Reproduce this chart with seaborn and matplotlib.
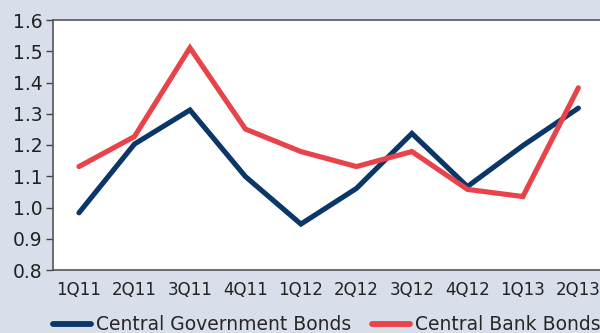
import matplotlib
matplotlib.use('Agg')
import matplotlib.pyplot as plt
import numpy as np
import pandas as pd
import seaborn as sns

quarters = ['1Q11', '2Q11', '3Q11', '4Q11', '1Q12', '2Q12', '3Q12', '4Q12', '1Q13', '2Q13']
gov_bonds = [0.983, 1.203, 1.312, 1.099, 0.947, 1.061, 1.237, 1.067, 1.198, 1.318]
cb_bonds = [1.131, 1.227, 1.511, 1.251, 1.179, 1.131, 1.179, 1.058, 1.035, 1.383]
series = ['Central Government Bonds', 'Central Bank Bonds']
colors = ['#0b3768', '#e8424a']
bg = '#d8deea'

df = pd.DataFrame({
    'pos': list(range(len(quarters))) * 2,
    'value': gov_bonds + cb_bonds,
    'series': [series[0]] * len(quarters) + [series[1]] * len(quarters),
})

sns.set_style('white')
plt.rcParams['font.family'] = ['DejaVu Sans']

fig = plt.figure(figsize=(6, 3.33), dpi=100, facecolor=bg)
ax = fig.add_axes([53 / 600, 63 / 333, 547 / 600, 250 / 333])
sns.lineplot(data=df, x='pos', y='value', hue='series', palette=colors,
             linewidth=3.7, ax=ax, legend=False)
for ln in ax.lines:
    ln.set_solid_capstyle('round')
    ln.set_solid_joinstyle('miter')

ax.set_facecolor('white')
ax.set_xlim(-0.468, 9.39)
ax.set_ylim(0.8, 1.6)
ax.set_yticks(np.arange(0.8, 1.61, 0.1))
ax.set_yticklabels([f'{v:.1f}' for v in np.arange(0.8, 1.61, 0.1)])
ax.set_xticks(range(len(quarters)))
ax.set_xticklabels(quarters)
ax.set_xticks(np.arange(0.5, len(quarters) - 0.5, 1), minor=True)
ax.tick_params(axis='x', which='major', length=0, pad=8, labelsize=12, colors='#222222')
ax.tick_params(axis='x', which='minor', direction='in', length=5, width=1, color='#444444')
ax.tick_params(axis='y', direction='out', length=5, width=1, color='#444444',
               labelsize=13.5, labelcolor='#222222', pad=2.5, left=True)
ax.set_xlabel('')
ax.set_ylabel('')
for side in ['left', 'top', 'bottom']:
    ax.spines[side].set_visible(True)
    ax.spines[side].set_color('#555555')
    ax.spines[side].set_linewidth(1.2)
ax.spines['right'].set_visible(False)

handles = [plt.Line2D([], [], color=c, lw=4.2, solid_capstyle='round') for c in colors]
fig.legend(handles, series, loc='center left', bbox_to_anchor=(53 / 600, 1 - 325 / 333),
           ncol=2, frameon=False, fontsize=13.5, handlelength=2.0, handletextpad=0.3,
           columnspacing=1.1, borderpad=0, borderaxespad=0)

fig.savefig('out.png', dpi=100, facecolor=bg)
